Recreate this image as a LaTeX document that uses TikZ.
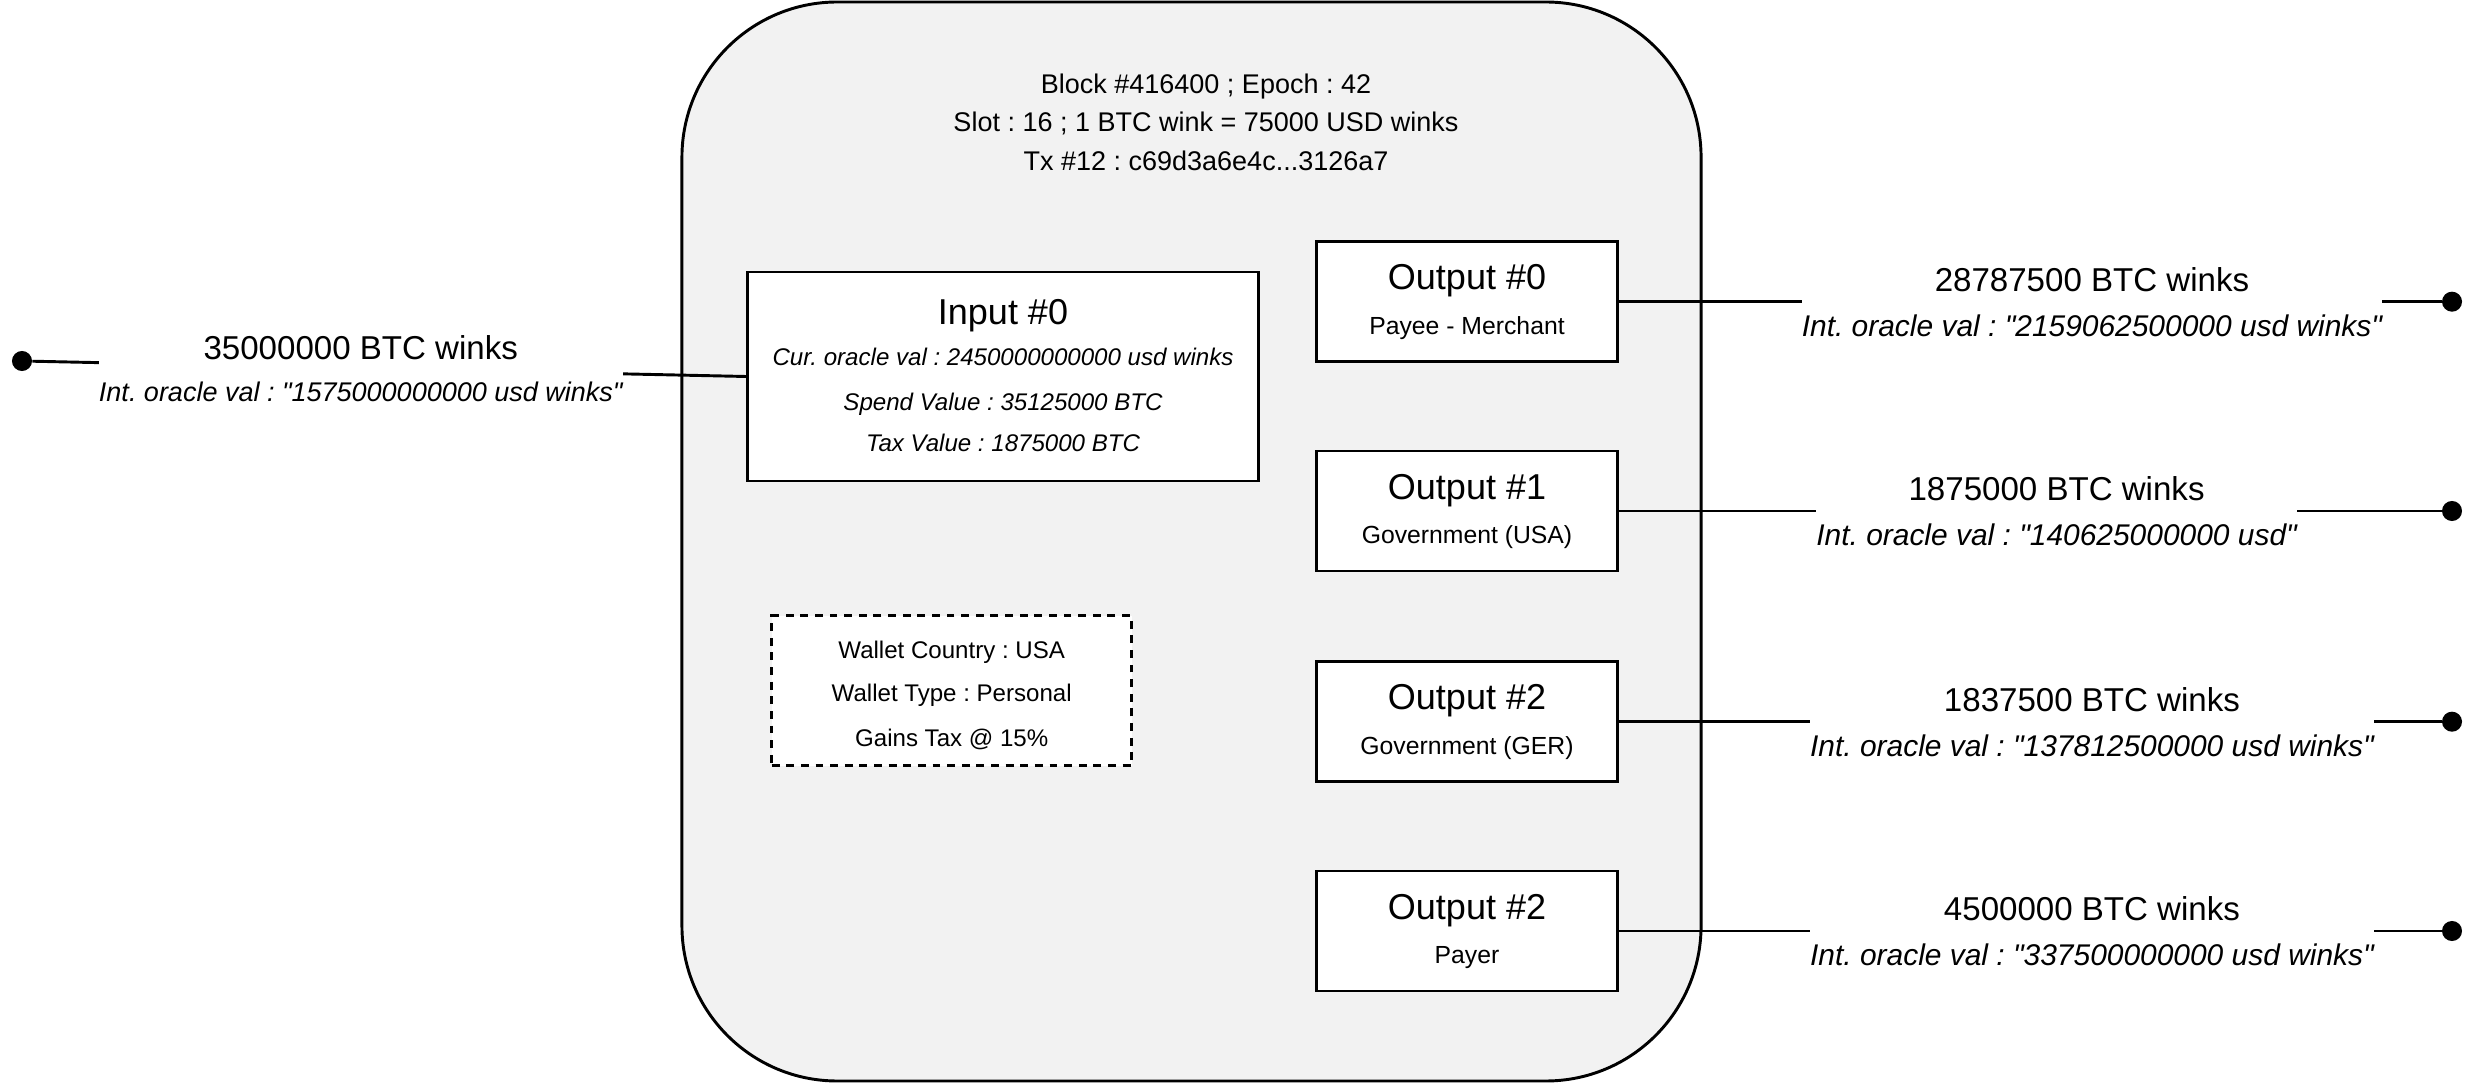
\documentclass[tikz,border=0pt]{standalone}
\usepackage{fontspec}
\setmainfont{Liberation Sans}[Ligatures=TeXOff]
\definecolor{blkgray}{HTML}{F2F2F2}
\frenchspacing
\begin{document}
\begin{tikzpicture}[x=0.4444pt, y=-0.4444pt,
  wire/.style={line width=1.3pt},
  blk/.style={draw, line width=1.3pt, fill=blkgray, rounded corners=69pt, minimum width=452.9pt, minimum height=479.5pt},
  box/.style={draw, line width=1.3pt, fill=white},
  outbox/.style={box, minimum width=133.8pt, minimum height=53.3pt},
  ttl/.style={anchor=base, font=\fontsize{16}{19}\selectfont},
  sub/.style={anchor=base, font=\fontsize{11}{13}\selectfont},
  note/.style={anchor=base, font=\fontsize{10.7}{13}\selectfont},
  noteit/.style={anchor=base, font=\fontsize{10.7}{13}\selectfont\itshape},
  amt/.style={fill=white, inner sep=0pt, align=center, font=\fontsize{14.7}{20}\selectfont},
  pin/.style={circle, fill, inner sep=0pt, minimum size=8.9pt}]
\useasboundingbox (0,0) rectangle (2481,1083);
\node[blk] (blk) at (1191.5,541.5) {};
\node[align=center, font=\fontsize{12}{17.1}\selectfont] (hdr) at (1206,122) {Block \#416400 ; Epoch : 42\\Slot : 16 ; 1 BTC wink = 75000 USD winks\\Tx \#12 : c69d3a6e4c...3126a7};
\node[box, minimum width=227pt, minimum height=92.9pt] (in0) at (1003,376.5) {};
\node[ttl] (in0t) at (1003,324.5) {Input \#0};
\node[noteit] (in0a) at (1003,366) {Cur. oracle val : 2450000000000 usd winks};
\node[noteit] (in0b) at (1003,410.5) {Spend Value : 35125000 BTC};
\node[noteit] (in0c) at (1003,452) {Tax Value : 1875000 BTC};
\node[outbox] (out0) at (1467,301.7) {};
\node[ttl] (out0t) at (1467,290) {Output \#0};
\node[sub] (out0s) at (1467,334.5) {Payee - Merchant};
\node[outbox] (out1) at (1467,511) {};
\node[ttl] (out1t) at (1467,499.5) {Output \#1};
\node[sub] (out1s) at (1467,543.8) {Government (USA)};
\node[outbox] (out2) at (1467,721.7) {};
\node[ttl] (out2t) at (1467,710) {Output \#2};
\node[sub] (out2s) at (1467,754.5) {Government (GER)};
\node[outbox] (out3) at (1467,931) {};
\node[ttl] (out3t) at (1467,919.3) {Output \#2};
\node[sub] (out3s) at (1467,963.8) {Payer};
\node[box, dash pattern=on 3.5pt off 3pt, minimum width=160pt, minimum height=66.7pt] (wal) at (951.7,690.8) {};
\node[note] (wal1) at (951.7,659) {Wallet Country : USA};
\node[note] (wal2) at (951.7,701.8) {Wallet Type : Personal};
\node[note] (wal3) at (951.7,746.3) {Gains Tax @ 15\%};
\node[pin] (ldot) at (22,361) {};
\node[pin] (rdot0) at (2452,301.7) {};
\node[pin] (rdot1) at (2452,511) {};
\node[pin] (rdot2) at (2452,721.7) {};
\node[pin] (rdot3) at (2452,931) {};
\draw[wire] (ldot) -- node[amt, pos=0.46, font=\fontsize{14.7}{18.7}\selectfont] {35000000 BTC winks\\{\fontsize{12}{14}\selectfont\itshape Int. oracle val : "1575000000000 usd winks"}} (in0.west);
\draw[wire] (out0.east) -- node[amt, pos=0.575] {28787500 BTC winks\\{\fontsize{13.3}{16}\selectfont\itshape Int. oracle val : "2159062500000 usd winks"}} (rdot0);
\draw[wire] (out1.east) -- node[amt, pos=0.532] {1875000 BTC winks\\{\fontsize{13.3}{16}\selectfont\itshape Int. oracle val : "140625000000 usd"}} (rdot1);
\draw[wire] (out2.east) -- node[amt, pos=0.575] {1837500 BTC winks\\{\fontsize{13.3}{16}\selectfont\itshape Int. oracle val : "137812500000 usd winks"}} (rdot2);
\draw[wire] (out3.east) -- node[amt, pos=0.575] {4500000 BTC winks\\{\fontsize{13.3}{16}\selectfont\itshape Int. oracle val : "337500000000 usd winks"}} (rdot3);
\end{tikzpicture}
\end{document}
